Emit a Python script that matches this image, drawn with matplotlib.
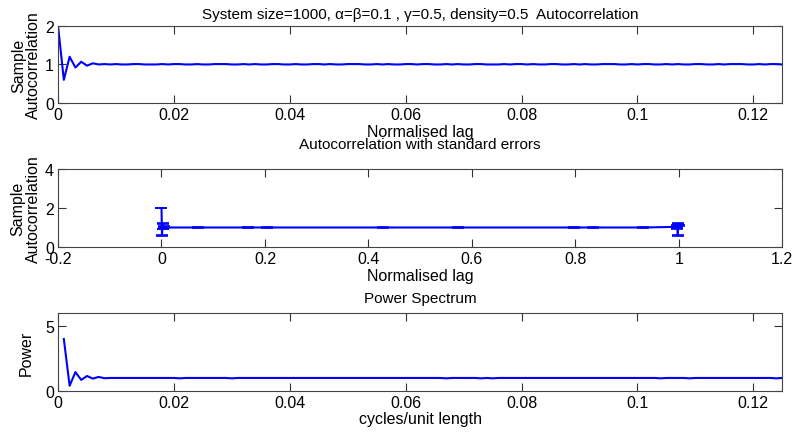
import matplotlib
matplotlib.use("Agg")
import matplotlib.pyplot as plt

plt.rcParams['font.family'] = ['Liberation Sans', 'DejaVu Sans']
plt.rcParams['font.size'] = 11.5
plt.rcParams['axes.titlesize'] = 11

# top panel: sample autocorrelation, lag 0..125 (normalised by system size 1000)
acf_lag = [k / 1000 for k in range(126)]
acf_vals = [2.0, 0.6, 1.2, 0.92, 1.07, 0.97, 1.03, 1.0, 1.01, 1.0,
            1.01, 1.0, 1.0, 1.01, 1.01, 1.0, 1.0, 1.0, 1.01, 1.0,
            1.01, 1.01, 1.0, 1.0, 1.01, 1.0, 1.0, 1.01, 1.01, 1.01,
            1.0, 1.0, 1.01, 1.0, 1.01, 1.0, 1.0, 1.01, 1.01, 1.0,
            1.0, 1.01, 1.0, 1.0, 1.01, 1.01, 1.0, 1.01, 1.0, 1.0,
            1.01, 1.01, 1.01, 1.0, 1.0, 1.01, 1.0, 1.01, 1.0, 1.0,
            1.01, 1.01, 1.0, 1.01, 1.01, 1.0, 1.0, 1.01, 1.0, 1.01,
            1.0, 1.0, 1.01, 1.01, 1.0, 1.0, 1.0, 1.01, 1.0, 1.01,
            1.01, 1.0, 1.01, 1.0, 1.0, 1.01, 1.01, 1.0, 1.0, 1.01,
            1.0, 1.01, 1.0, 1.0, 1.01, 1.01, 1.01, 1.0, 1.0, 1.01,
            1.0, 1.01, 1.01, 1.0, 1.0, 1.01, 1.0, 1.01, 1.0, 1.0,
            1.01, 1.01, 1.0, 1.0, 1.01, 1.0, 1.01, 1.01, 1.01, 1.0,
            1.0, 1.01, 1.0, 1.01, 1.01, 1.0]

# middle panel: autocorrelation with standard errors
se_lag = [0.0, 0.001, 0.002, 0.003, 0.004, 0.005, 0.071, 0.167, 0.204, 0.429,
          0.574, 0.798, 0.835, 0.93, 0.995, 0.996, 0.997, 0.998, 0.999, 1.0]
se_vals = [2.0, 0.6, 1.2, 0.92, 1.07, 1.0, 1.0, 1.0, 1.0, 1.0,
           1.0, 1.0, 1.0, 1.0, 1.03, 0.96, 1.12, 0.6, 1.2, 1.1]
se_err = [0.02, 0.02, 0.02, 0.02, 0.02, 0.02, 0.02, 0.02, 0.02, 0.02,
          0.02, 0.02, 0.02, 0.02, 0.02, 0.02, 0.02, 0.02, 0.02, 0.02]

# bottom panel: power spectrum, frequency 1..125 cycles per 1000
freq = [k / 1000 for k in range(1, 126)]
power = [4.0, 0.4, 1.45, 0.85, 1.15, 0.95, 1.08, 0.98, 1.0, 1.0,
         1.0, 1.0, 1.0, 1.0, 1.0, 1.0, 1.0, 1.0, 1.0, 1.0,
         0.97, 1.0, 1.0, 1.0, 1.0, 1.0, 1.0, 1.0, 1.0, 0.97,
         1.0, 1.0, 1.0, 1.0, 1.0, 1.0, 1.0, 1.0, 1.0, 1.0,
         1.0, 1.0, 1.0, 1.0, 1.0, 1.0, 1.0, 1.0, 1.0, 1.0,
         1.0, 1.0, 1.0, 1.0, 1.0, 1.0, 1.0, 1.0, 1.0, 1.0,
         1.0, 1.0, 1.0, 1.0, 1.0, 1.0, 0.97, 1.0, 1.0, 1.0,
         1.0, 1.0, 0.97, 1.0, 0.97, 1.0, 1.0, 1.0, 1.0, 1.0,
         1.0, 1.0, 1.0, 1.0, 1.0, 1.0, 1.0, 1.0, 1.0, 1.0,
         1.0, 1.0, 1.0, 1.0, 1.0, 1.0, 1.0, 1.0, 1.0, 1.0,
         1.0, 1.0, 1.0, 0.97, 1.0, 1.0, 1.0, 1.0, 0.97, 1.0,
         1.0, 1.0, 1.0, 1.0, 1.0, 1.0, 1.0, 1.0, 1.0, 1.0,
         1.0, 1.0, 1.0, 0.97, 1.0]


def style_axes(ax):
    ax.tick_params(direction='in', length=5.5, top=True, right=True,
                   colors='#333333', labelcolor='black', pad=3)
    for s in ax.spines.values():
        s.set_color('#444444')
        s.set_linewidth(0.8)


fig = plt.figure(figsize=(7.95, 4.35), dpi=100)

ax1 = fig.add_axes([0.073, 0.761, 0.911, 0.177])
ax1.plot(acf_lag, acf_vals, color='blue', lw=1.5)
ax1.set_xlim(0, 0.125)
ax1.set_ylim(0, 2)
ax1.set_xticks([0, 0.02, 0.04, 0.06, 0.08, 0.1, 0.12])
ax1.set_xticklabels(['0', '0.02', '0.04', '0.06', '0.08', '0.1', '0.12'])
ax1.set_yticks([0, 1, 2])
ax1.set_xlabel('Normalised lag', labelpad=1)
ax1.set_ylabel('Sample\nAutocorrelation', labelpad=3, linespacing=1.0)
ax1.set_title('System size=1000, \u03b1=\u03b2=0.1 , \u03b3=0.5, density=0.5  Autocorrelation',
              pad=6)
style_axes(ax1)

ax2 = fig.add_axes([0.073, 0.430, 0.911, 0.179])
ax2.errorbar(se_lag, se_vals, yerr=se_err, color='blue', lw=1.5,
             elinewidth=1.2, capsize=4, capthick=1.2)
ax2.set_xlim(-0.2, 1.2)
ax2.set_ylim(0, 4)
ax2.set_xticks([-0.2, 0, 0.2, 0.4, 0.6, 0.8, 1, 1.2])
ax2.set_xticklabels(['-0.2', '0', '0.2', '0.4', '0.6', '0.8', '1', '1.2'])
ax2.set_yticks([0, 2, 4])
ax2.set_xlabel('Normalised lag', labelpad=1)
ax2.set_ylabel('Sample\nAutocorrelation', labelpad=3, linespacing=1.0)
ax2.set_title('Autocorrelation with standard errors', pad=15)
style_axes(ax2)

ax3 = fig.add_axes([0.073, 0.099, 0.911, 0.179])
ax3.plot(freq, power, color='blue', lw=1.5)
ax3.set_xlim(0, 0.125)
ax3.set_ylim(0, 6)
ax3.set_xticks([0, 0.02, 0.04, 0.06, 0.08, 0.1, 0.12])
ax3.set_xticklabels(['0', '0.02', '0.04', '0.06', '0.08', '0.1', '0.12'])
ax3.set_yticks([0, 5])
ax3.set_xlabel('cycles/unit length', labelpad=1)
ax3.set_ylabel('Power', labelpad=8)
ax3.set_title('Power Spectrum', pad=8)
style_axes(ax3)

fig.savefig('out.png', dpi=100)
